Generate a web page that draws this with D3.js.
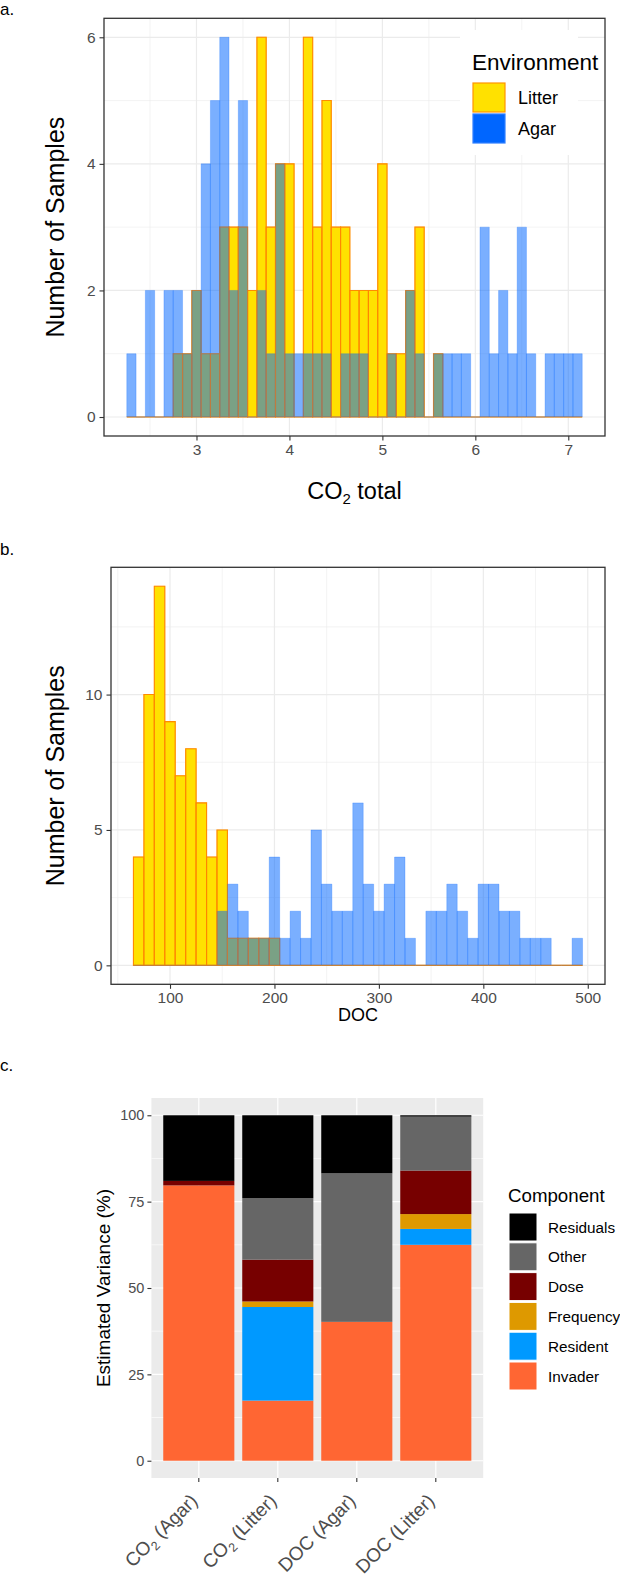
<!DOCTYPE html>
<html><head><meta charset="utf-8">
<script src="https://cdn.jsdelivr.net/npm/d3@7"></script>
<style>
body{margin:0;background:#fff}
svg{display:block}
text{font-family:"Liberation Sans",Arial,Helvetica,sans-serif}
</style>
</head><body>
<svg id="chart" width="620" height="1582"></svg>
<script>
// ---------- DATA ----------
// Panel a: CO2 total histogram (bin centres, width 0.1)
const co2Bins = [2.3,2.4,2.5,2.6,2.7,2.8,2.9,
  3.0,3.1,3.2,3.3,3.4,3.5,3.6,3.7,3.8,3.9,
  4.0,4.1,4.2,4.3,4.4,4.5,4.6,4.7,4.8,4.9,
  5.0,5.1,5.2,5.3,5.4,5.5,5.6,5.7,5.8,5.9,
  6.0,6.1,6.2,6.3,6.4,6.5,6.6,6.7,6.8,6.9,
  7.0,7.1];
const co2Litter = [0,0,0,0,0,1,1,
  2,1,1,3,3,3,2,6,3,4,
  4,0,6,3,5,3,3,2,2,2,
  4,1,1,2,3,0,1,0,0,0,
  0,0,0,0,0,0,0,0,0,0,
  0,0];
const co2Agar = [1,0,2,0,2,2,1,
  2,4,5,6,2,5,0,2,1,4,
  1,1,1,1,1,0,1,1,1,0,
  0,1,0,2,1,0,1,1,1,1,
  0,3,1,2,1,3,1,0,1,1,
  1,1];
const co2XTicks = [3,4,5,6,7];
const co2XMinor = [2.5,3.5,4.5,5.5,6.5];
const co2YTicks = [0,2,4,6];
const co2YMinor = [1,3,5];

// Panel b: DOC histogram (bin centres, width 10)
const docBins = [70,80,90,100,110,120,130,140,150,160,170,180,190,200,
  210,220,230,240,250,260,270,280,290,300,310,320,330,340,350,360,370,380,390,
  400,410,420,430,440,450,460,470,480,490];
const docLitter = [4,10,14,9,7,8,6,4,5,1,1,1,1,1,
  0,0,0,0,0,0,0,0,0,0,0,0,0,0,0,0,0,0,0,
  0,0,0,0,0,0,0,0,0,0];
const docAgar = [0,0,0,0,0,0,0,0,2,3,2,1,1,4,
  1,2,1,5,3,2,2,6,3,2,3,4,1,0,2,2,3,2,1,
  3,3,2,2,1,1,1,0,0,1];
const docXTicks = [100,200,300,400,500];
const docXMinor = [50,150,250,350,450];
const docYTicks = [0,5,10];
const docYMinor = [2.5,7.5,12.5];

// Panel c: variance partitioning (%)
const varCategories = ["CO2 (Agar)","CO2 (Litter)","DOC (Agar)","DOC (Litter)"];
const varComponents = ["Invader","Resident","Frequency","Dose","Other","Residuals"];
const invader   = [79.7,17.4,40.2,62.5];
const resident  = [0,27.1,0,4.6];
const frequency = [0,1.6,0,4.3];
const dose      = [1.3,12.1,0,12.6];
const other     = [0,17.8,43.0,15.6];
const residuals = [19.0,24.0,16.8,0.4];
const varYTicks = [0,25,50,75,100];
const varYMinor = [12.5,37.5,62.5,87.5];
const componentColors = ["#FF6633","#0099FF","#DE9900","#770000","#666666","#000000"];

// ---------- DRAW ----------
const svg = d3.select("#chart");
const GRID = "#EBEBEB", BORDER = "#333333", TICKTXT = "#4D4D4D";
const YELLOW = "#FFE100", ORANGE = "#FF9500", BLUE = "#0066FF";

function barPath(x, y, c, w, v){
  const a = x(c - w/2), b = x(c + w/2), y0 = y(0), y1 = y(v);
  return `M${a},${y0}V${y1}H${b}V${y0}Z`;
}

function histPanel(o){
  const x = d3.scaleLinear().domain(o.xDomain).range([o.left, o.right]);
  const y = d3.scaleLinear().domain(o.yDomain).range([o.bottom, o.top]);
  const g = svg.append("g");
  g.append("rect").attr("x",o.left).attr("y",o.top).attr("width",o.right-o.left).attr("height",o.bottom-o.top).attr("fill","#fff");
  // grid
  g.selectAll(null).data(o.xMinor).join("line").attr("x1",d=>x(d)).attr("x2",d=>x(d)).attr("y1",o.top).attr("y2",o.bottom).attr("stroke",GRID).attr("stroke-width",0.6);
  g.selectAll(null).data(o.yMinor).join("line").attr("y1",d=>y(d)).attr("y2",d=>y(d)).attr("x1",o.left).attr("x2",o.right).attr("stroke",GRID).attr("stroke-width",0.6);
  g.selectAll(null).data(o.xTicks).join("line").attr("x1",d=>x(d)).attr("x2",d=>x(d)).attr("y1",o.top).attr("y2",o.bottom).attr("stroke",GRID).attr("stroke-width",1.2);
  g.selectAll(null).data(o.yTicks).join("line").attr("y1",d=>y(d)).attr("y2",d=>y(d)).attr("x1",o.left).attr("x2",o.right).attr("stroke",GRID).attr("stroke-width",1.2);
  const rows = o.bins.map((c,i)=>({c, l:o.litter[i], a:o.agar[i]}));
  // litter
  g.selectAll(null).data(rows).join("path").attr("d",d=>barPath(x,y,d.c,o.binW,d.l))
    .attr("fill",YELLOW).attr("stroke",ORANGE).attr("stroke-width",1.1);
  // agar
  g.selectAll(null).data(rows).join("path").attr("d",d=>barPath(x,y,d.c,o.binW,d.a))
    .attr("fill",BLUE).attr("fill-opacity",0.52).attr("stroke",BLUE).attr("stroke-opacity",0.25).attr("stroke-width",1);
  // litter outline showing through
  g.selectAll(null).data(rows).join("path").attr("d",d=>barPath(x,y,d.c,o.binW,d.l))
    .attr("fill","none").attr("stroke","#FF8000").attr("stroke-opacity",0.4).attr("stroke-width",1.1);
  // border
  g.append("rect").attr("x",o.left).attr("y",o.top).attr("width",o.right-o.left).attr("height",o.bottom-o.top)
    .attr("fill","none").attr("stroke",BORDER).attr("stroke-width",1.3);
  // axes
  const ax = g.append("g").attr("transform",`translate(0,${o.bottom})`)
    .call(d3.axisBottom(x).tickValues(o.xTicks).tickSize(4.5).tickPadding(3).tickFormat(d3.format("d")));
  const ay = g.append("g").attr("transform",`translate(${o.left},0)`)
    .call(d3.axisLeft(y).tickValues(o.yTicks).tickSize(4.5).tickPadding(4).tickFormat(d3.format("d")));
  [ax,ay].forEach(a=>{
    a.select(".domain").remove();
    a.selectAll(".tick line").attr("stroke",BORDER).attr("stroke-width",1.1);
    a.selectAll(".tick text").attr("fill",TICKTXT).style("font-size","15.5px").style("font-family",'"Liberation Sans",Arial,sans-serif');
  });
  // y title
  g.append("text").attr("transform",`translate(${o.yTitleX},${(o.top+o.bottom)/2}) rotate(-90)`)
    .attr("text-anchor","middle").style("font-size","25px").attr("fill","#000").text("Number of Samples");
  return {x,y,g};
}

// Panel a
svg.append("text").attr("x",0).attr("y",15).style("font-size","17px").text("a.");
const pa = histPanel({left:104,right:605,top:18.3,bottom:436,xDomain:[2.005,7.395],yDomain:[-0.3,6.3],
  bins:co2Bins,binW:0.1,litter:co2Litter,agar:co2Agar,xTicks:co2XTicks,xMinor:co2XMinor,yTicks:co2YTicks,yMinor:co2YMinor,yTitleX:64});
const ta = svg.append("text").attr("x",(104+605)/2).attr("y",499).attr("text-anchor","middle").style("font-size","23.5px");
ta.append("tspan").text("CO");
ta.append("tspan").attr("dy",5).style("font-size","15px").text("2");
ta.append("tspan").attr("dy",-5).text(" total");
// legend a
const lg = svg.append("g");
lg.append("rect").attr("x",460).attr("y",30).attr("width",118).attr("height",125).attr("fill","#fff");
lg.append("text").attr("x",472).attr("y",69.5).style("font-size","22.5px").text("Environment");
const envLabels = ["Litter","Agar"];
const envFill = [YELLOW, BLUE], envStroke = [ORANGE, "#2F7FFF"];
envLabels.forEach((t,i)=>{
  lg.append("rect").attr("x",473).attr("y",83+i*31).attr("width",32).attr("height",29)
    .attr("fill",envFill[i]).attr("stroke",envStroke[i]).attr("stroke-width",1.2);
  lg.append("text").attr("x",518).attr("y",103.5+i*31.5).style("font-size","18px").text(t);
});

// Panel b
svg.append("text").attr("x",0).attr("y",555).style("font-size","17px").text("b.");
const pb = histPanel({left:111,right:605,top:567.3,bottom:984.3,xDomain:[43.5,516.5],yDomain:[-0.7,14.7],
  bins:docBins,binW:10,litter:docLitter,agar:docAgar,xTicks:docXTicks,xMinor:docXMinor,yTicks:docYTicks,yMinor:docYMinor,yTitleX:64});
svg.append("text").attr("x",(111+605)/2).attr("y",1021).attr("text-anchor","middle").style("font-size","18px").text("DOC");

// Panel c
svg.append("text").attr("x",0).attr("y",1071).style("font-size","17px").text("c.");
const cL=151.4, cR=483.2, cT=1098, cB=1478;
const xc = d3.scaleBand().domain(varCategories).range([cL,cR]).paddingInner(0.1).paddingOuter(0.15);
const yc = d3.scaleLinear().domain([-5,105]).range([cB,cT]);
const gc = svg.append("g");
gc.append("rect").attr("x",cL).attr("y",cT).attr("width",cR-cL).attr("height",cB-cT).attr("fill","#EBEBEB");
gc.selectAll(null).data(varYMinor).join("line").attr("x1",cL).attr("x2",cR).attr("y1",d=>yc(d)).attr("y2",d=>yc(d)).attr("stroke","#fff").attr("stroke-width",0.6);
gc.selectAll(null).data(varYTicks).join("line").attr("x1",cL).attr("x2",cR).attr("y1",d=>yc(d)).attr("y2",d=>yc(d)).attr("stroke","#fff").attr("stroke-width",1.2);
gc.selectAll(null).data(varCategories).join("line").attr("x1",d=>xc(d)+xc.bandwidth()/2).attr("x2",d=>xc(d)+xc.bandwidth()/2).attr("y1",cT).attr("y2",cB).attr("stroke","#fff").attr("stroke-width",1.2);
const compValues = [invader,resident,frequency,dose,other,residuals];
const rowsC = varCategories.map((c,i)=>{const r={cat:c}; varComponents.forEach((k,j)=>r[k]=compValues[j][i]); return r;});
const stacked = d3.stack().keys(varComponents)(rowsC);
gc.selectAll("g.layer").data(stacked).join("g").attr("fill",(d,i)=>componentColors[i])
  .selectAll("rect").data(d=>d).join("rect")
  .attr("x",d=>xc(d.data.cat)).attr("width",xc.bandwidth())
  .attr("y",d=>yc(d[1])).attr("height",d=>yc(d[0])-yc(d[1]));
const ayc = gc.append("g").attr("transform",`translate(${cL},0)`).call(d3.axisLeft(yc).tickValues(varYTicks).tickSize(4).tickPadding(3));
const axc = gc.append("g").attr("transform",`translate(0,${cB})`).call(d3.axisBottom(xc).tickSize(4).tickFormat(""));
[ayc,axc].forEach(a=>{a.select(".domain").remove(); a.selectAll(".tick line").attr("stroke",BORDER).attr("stroke-width",1.1);});
ayc.selectAll(".tick text").attr("fill",TICKTXT).style("font-size","14.5px").style("font-family",'"Liberation Sans",Arial,sans-serif');
// rotated category labels
varCategories.forEach(c=>{
  const cx = xc(c)+xc.bandwidth()/2;
  const t = gc.append("text").attr("transform",`translate(${cx},${cB+24}) rotate(-45)`)
    .attr("text-anchor","end").attr("fill",TICKTXT).style("font-size","19px");
  if(c.startsWith("CO2")){
    t.append("tspan").text("CO");
    t.append("tspan").attr("dy",4.5).style("font-size","12.5px").text("2");
    t.append("tspan").attr("dy",-4.5).text(c.slice(3));
  } else t.text(c);
});
svg.append("text").attr("transform",`translate(110,${(cT+cB)/2}) rotate(-90)`).attr("text-anchor","middle").style("font-size","19px").text("Estimated Variance (%)");
// legend c
const lc = svg.append("g");
lc.append("text").attr("x",508).attr("y",1202).style("font-size","18.7px").text("Component");
const legendOrder = varComponents.slice().reverse();
legendOrder.forEach((k,i)=>{
  const j = varComponents.indexOf(k);
  lc.append("rect").attr("x",509).attr("y",1213+i*29.8).attr("width",28).attr("height",28).attr("fill",componentColors[j]).attr("stroke","#fff").attr("stroke-width",1);
  lc.append("text").attr("x",548).attr("y",1213+i*29.8+19.5).style("font-size","15.3px").text(k);
});
</script>
</body></html>
